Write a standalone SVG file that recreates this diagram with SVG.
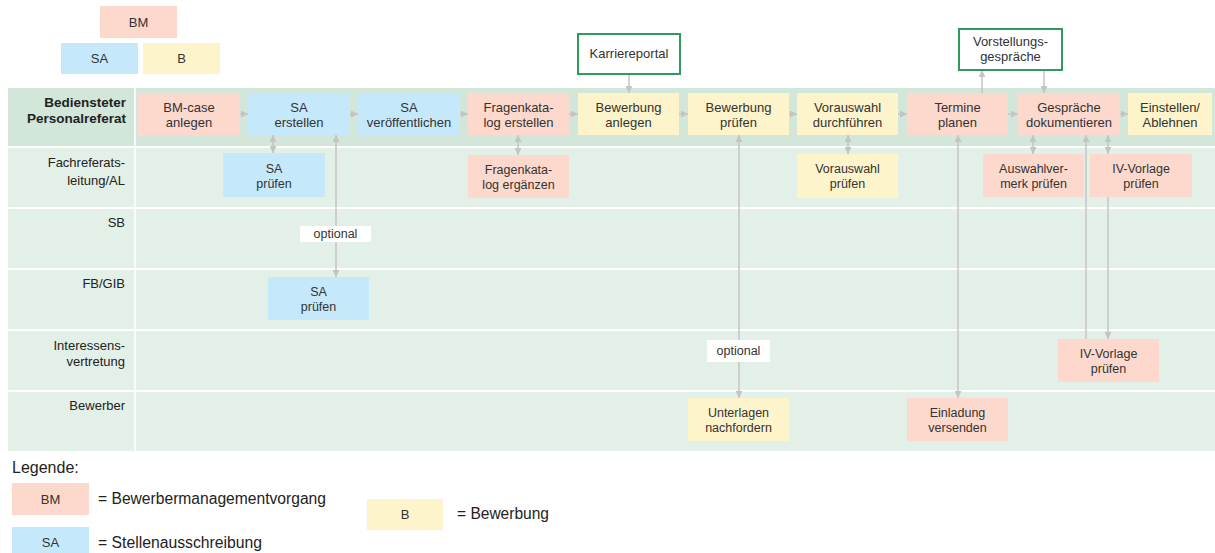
<svg xmlns="http://www.w3.org/2000/svg" width="1215" height="553" viewBox="0 0 1215 553">
<style>
text{font-family:"Liberation Sans",Arial,sans-serif;fill:#333;}
.n{font-size:13px;text-anchor:middle;}
.s{font-size:12.5px;text-anchor:middle;}
.lh{font-size:13px;text-anchor:end;fill:#222;}
.lhb{font-size:13.5px;text-anchor:end;font-weight:bold;fill:#222;}
.bm{fill:#fcd9cc;}
.sa{fill:#c6e8fb;}
.b{fill:#fdf4cb;}
.lane1{fill:#d3e6da;}
.lane{fill:#e3f0e7;}
.ext{fill:#fff;stroke:#2f9a5b;stroke-width:2;}
.c{stroke:#c4c4c4;stroke-width:1.5;fill:none;}
.opt{fill:#fff;}
.lg{font-size:16px;fill:#222;}
</style>
<defs>
<marker id="ah" viewBox="0 0 10 10" refX="10" refY="5" markerWidth="7" markerHeight="7" markerUnits="userSpaceOnUse" orient="auto-start-reverse">
<path d="M0,0 L10,5 L0,10 z" fill="#c4c4c4"/>
</marker>
</defs>

<g id="top-legend">
<rect class="bm" x="100" y="6" width="77" height="32"/>
<text class="n" x="138.5" y="27">BM</text>
<rect class="sa" x="61" y="43" width="77" height="31"/>
<text class="n" x="99.5" y="63">SA</text>
<rect class="b" x="143" y="43" width="77" height="31"/>
<text class="n" x="181.5" y="63">B</text>
</g>

<g id="lanes">
<rect class="lane1" x="8" y="88" width="1207" height="58"/>
<rect class="lane" x="8" y="148" width="1207" height="59"/>
<rect class="lane" x="8" y="209" width="1207" height="59"/>
<rect class="lane" x="8" y="270" width="1207" height="59"/>
<rect class="lane" x="8" y="331" width="1207" height="59"/>
<rect class="lane" x="8" y="392" width="1207" height="59"/>
<rect x="134" y="88" width="2" height="363" fill="#fff" opacity="0.8"/>
<text class="lhb" x="126" y="107">Bediensteter</text>
<text class="lhb" x="126" y="123">Personalreferat</text>
<text class="lh" x="125" y="167">Fachreferats-</text>
<text class="lh" x="125" y="185">leitung/AL</text>
<text class="lh" x="125" y="227">SB</text>
<text class="lh" x="125" y="288">FB/GIB</text>
<text class="lh" x="125" y="350">Interessens-</text>
<text class="lh" x="125" y="366">vertretung</text>
<text class="lh" x="125" y="410">Bewerber</text>
</g>

<g id="connectors">
<path class="c" d="M240,114 H248" marker-end="url(#ah)"/>
<path class="c" d="M350,114 H358" marker-end="url(#ah)"/>
<path class="c" d="M460,114 H468" marker-end="url(#ah)"/>
<path class="c" d="M569,114 H578" marker-end="url(#ah)"/>
<path class="c" d="M679,114 H688" marker-end="url(#ah)"/>
<path class="c" d="M789,114 H797" marker-end="url(#ah)"/>
<path class="c" d="M898,114 H907" marker-end="url(#ah)"/>
<path class="c" d="M1008,114 H1018" marker-end="url(#ah)"/>
<path class="c" d="M1120,114 H1128" marker-end="url(#ah)"/>
<path class="c" d="M273,135 V153" marker-start="url(#ah)" marker-end="url(#ah)"/>
<path class="c" d="M336,135 V277" marker-start="url(#ah)" marker-end="url(#ah)"/>
<path class="c" d="M518,135 V155" marker-start="url(#ah)" marker-end="url(#ah)"/>
<path class="c" d="M739,135 V398" marker-start="url(#ah)" marker-end="url(#ah)"/>
<path class="c" d="M848,135 V154" marker-start="url(#ah)" marker-end="url(#ah)"/>
<path class="c" d="M958,135 V398" marker-start="url(#ah)" marker-end="url(#ah)"/>
<path class="c" d="M1033,135 V154" marker-start="url(#ah)" marker-end="url(#ah)"/>
<path class="c" d="M1108,135 V154" marker-start="url(#ah)" marker-end="url(#ah)"/>
<path class="c" d="M1086,339 V135" marker-end="url(#ah)"/>
<path class="c" d="M1108,197 V339" marker-end="url(#ah)"/>
<path class="c" d="M629,74 V93" marker-end="url(#ah)"/>
<path class="c" d="M982,93 V70" marker-end="url(#ah)"/>
<path class="c" d="M1044,70 V93" marker-end="url(#ah)"/>
<rect class="opt" x="300" y="226" width="71" height="16"/>
<text class="s" x="335.5" y="238" font-size="12">optional</text>
<rect class="opt" x="707" y="340" width="63" height="22"/>
<text class="s" x="738.5" y="355" font-size="12">optional</text>
</g>

<g id="n-bmcase"><rect class="bm" x="138" y="93" width="102" height="42"/><text class="n" x="189" y="112">BM-case</text><text class="n" x="189" y="127">anlegen</text></g>
<g id="n-sa-erstellen"><rect class="sa" x="248" y="93" width="102" height="42"/><text class="n" x="299" y="112">SA</text><text class="n" x="299" y="127">erstellen</text></g>
<g id="n-sa-veroeff"><rect class="sa" x="358" y="93" width="102" height="42"/><text class="n" x="409" y="112">SA</text><text class="n" x="409" y="127">veröffentlichen</text></g>
<g id="n-fk-erstellen"><rect class="bm" x="468" y="93" width="101" height="42"/><text class="n" x="518.5" y="112">Fragenkata-</text><text class="n" x="518.5" y="127">log erstellen</text></g>
<g id="n-bew-anlegen"><rect class="b" x="578" y="93" width="101" height="42"/><text class="n" x="628.5" y="112">Bewerbung</text><text class="n" x="628.5" y="127">anlegen</text></g>
<g id="n-bew-pruefen"><rect class="b" x="688" y="93" width="101" height="42"/><text class="n" x="738.5" y="112">Bewerbung</text><text class="n" x="738.5" y="127">prüfen</text></g>
<g id="n-vorauswahl"><rect class="b" x="797" y="93" width="101" height="42"/><text class="n" x="847.5" y="112">Vorauswahl</text><text class="n" x="847.5" y="127">durchführen</text></g>
<g id="n-termine"><rect class="bm" x="907" y="93" width="101" height="42"/><text class="n" x="957.5" y="112">Termine</text><text class="n" x="957.5" y="127">planen</text></g>
<g id="n-gespraeche"><rect class="bm" x="1018" y="93" width="102" height="42"/><text class="n" x="1069" y="112">Gespräche</text><text class="n" x="1069" y="127">dokumentieren</text></g>
<g id="n-einstellen"><rect class="b" x="1128" y="93" width="84" height="42"/><text class="n" x="1170" y="112">Einstellen/</text><text class="n" x="1170" y="127">Ablehnen</text></g>

<g id="n-sa-pruefen-al"><rect class="sa" x="223" y="153" width="102" height="44"/><text class="s" x="274" y="173">SA</text><text class="s" x="274" y="188">prüfen</text></g>
<g id="n-fk-ergaenzen"><rect class="bm" x="468" y="155" width="101" height="43"/><text class="s" x="518.5" y="174">Fragenkata-</text><text class="s" x="518.5" y="189">log ergänzen</text></g>
<g id="n-vorauswahl-pruefen"><rect class="b" x="797" y="154" width="101" height="44"/><text class="s" x="847.5" y="173">Vorauswahl</text><text class="s" x="847.5" y="188">prüfen</text></g>
<g id="n-auswahlvermerk"><rect class="bm" x="983" y="154" width="101" height="43"/><text class="s" x="1033.5" y="173">Auswahlver-</text><text class="s" x="1033.5" y="188">merk prüfen</text></g>
<g id="n-iv-al"><rect class="bm" x="1090" y="154" width="102" height="43"/><text class="s" x="1141" y="173">IV-Vorlage</text><text class="s" x="1141" y="188">prüfen</text></g>

<g id="n-sa-pruefen-fb"><rect class="sa" x="268" y="277" width="101" height="43"/><text class="s" x="318.5" y="296">SA</text><text class="s" x="318.5" y="311">prüfen</text></g>

<g id="n-iv-ivt"><rect class="bm" x="1058" y="339" width="101" height="43"/><text class="s" x="1108.5" y="358">IV-Vorlage</text><text class="s" x="1108.5" y="373">prüfen</text></g>

<g id="n-unterlagen"><rect class="b" x="688" y="398" width="101" height="43"/><text class="s" x="738.5" y="417">Unterlagen</text><text class="s" x="738.5" y="432">nachfordern</text></g>
<g id="n-einladung"><rect class="bm" x="907" y="398" width="101" height="43"/><text class="s" x="957.5" y="417">Einladung</text><text class="s" x="957.5" y="432">versenden</text></g>

<g id="n-karriereportal"><rect class="ext" x="578" y="34" width="102" height="40"/><text class="n" x="629" y="58">Karriereportal</text></g>
<g id="n-vorstellung"><rect class="ext" x="959" y="29" width="103" height="41"/><text class="n" x="1010.5" y="46">Vorstellungs-</text><text class="n" x="1010.5" y="61">gespräche</text></g>

<g id="legend">
<text class="lg" x="12" y="473">Legende:</text>
<rect class="bm" x="12" y="483" width="77" height="32"/>
<text class="n" x="50.5" y="504" font-size="12">BM</text>
<text class="lg" x="98" y="504" font-size="16" textLength="228" lengthAdjust="spacingAndGlyphs">= Bewerbermanagementvorgang</text>
<rect class="sa" x="12" y="527" width="77" height="26"/>
<text class="n" x="50.5" y="547" font-size="12">SA</text>
<text class="lg" x="98" y="548" textLength="164" lengthAdjust="spacingAndGlyphs">= Stellenausschreibung</text>
<rect class="b" x="367" y="499" width="76" height="31"/>
<text class="n" x="405" y="519" font-size="12">B</text>
<text class="lg" x="457" y="519" textLength="92" lengthAdjust="spacingAndGlyphs">= Bewerbung</text>
</g>
</svg>
